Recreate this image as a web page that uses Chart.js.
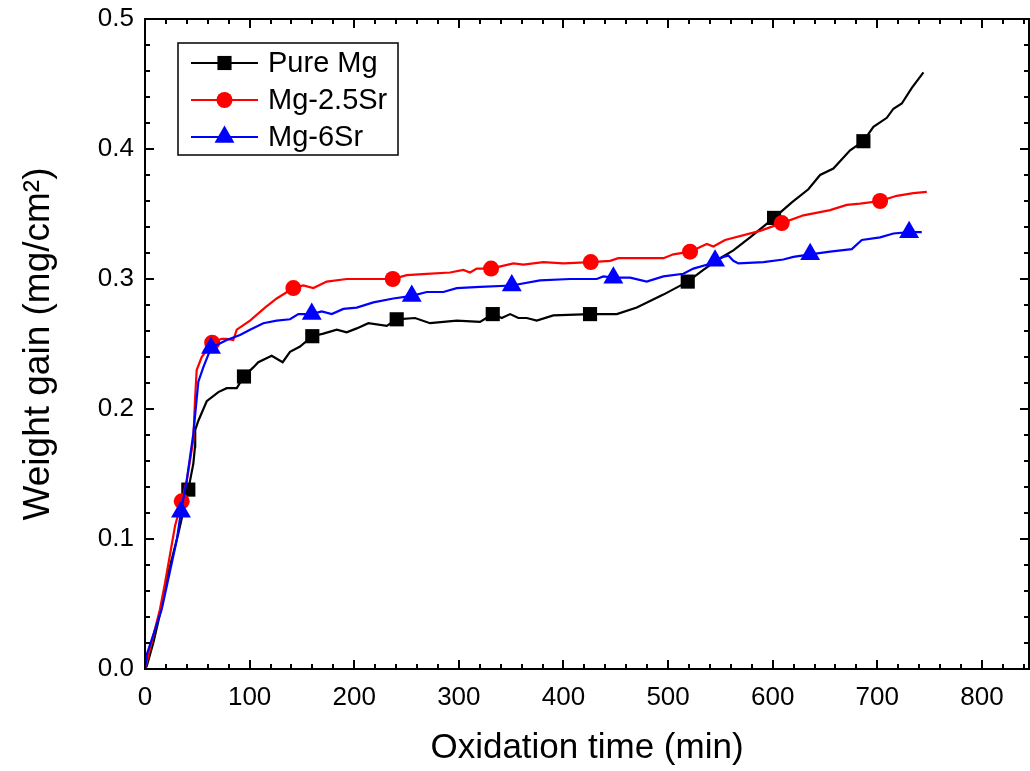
<!DOCTYPE html>
<html>
<head>
<meta charset="utf-8">
<script src="https://cdn.jsdelivr.net/npm/chart.js@4.4.1/dist/chart.umd.min.js"></script>
<style>
  html, body { margin: 0; padding: 0; background: #ffffff; }
  #wrap { width: 1030px; height: 771px; position: relative; }
</style>
</head>
<body>
<div id="wrap"><canvas id="c" width="1030" height="771"></canvas></div>
<script>
// ---------- data (oxidation time in min, weight gain in mg/cm2) ----------
const seriesNames = ['Pure Mg', 'Mg-2.5Sr', 'Mg-6Sr'];

const pureMgT = [0, 1.6, 7.9, 16.0, 22.3, 31.8, 41.4, 46.2, 47.8, 48.0, 51.0, 59.0, 70.1, 78.1, 87.7, 94.6, 103.5, 108.3, 121.1, 131.6, 138.6, 148.2, 159.9, 170.5, 183.3, 192.8, 202.4, 213.5, 231.1, 240.6, 258.1, 272.5, 298.0, 320.3, 332.4, 341.0, 349.0, 356.9, 364.9, 374.5, 390.3, 425.4, 451.0, 470.1, 495.5, 518.8, 533.7, 549.7, 562.4, 578.4, 601.3, 618.3, 634.1, 645.3, 658.0, 674.0, 686.7, 696.3, 709.1, 715.4, 723.4, 733.0, 744.1];
const pureMgW = [0, 0.002, 0.020, 0.048, 0.074, 0.104, 0.138, 0.158, 0.171, 0.184, 0.191, 0.206, 0.213, 0.216, 0.216, 0.225, 0.232, 0.236, 0.241, 0.236, 0.244, 0.248, 0.256, 0.258, 0.261, 0.259, 0.262, 0.266, 0.264, 0.269, 0.270, 0.266, 0.268, 0.267, 0.273, 0.270, 0.273, 0.270, 0.270, 0.268, 0.272, 0.273, 0.273, 0.278, 0.288, 0.298, 0.307, 0.316, 0.322, 0.332, 0.347, 0.359, 0.369, 0.380, 0.385, 0.399, 0.406, 0.417, 0.424, 0.431, 0.435, 0.447, 0.459];
const pureMgMarkT = [41.4, 94.6, 159.9, 240.6, 332.4, 425.4, 518.8, 601.3, 686.7];
const pureMgMarkW = [0.138, 0.225, 0.256, 0.269, 0.273, 0.273, 0.298, 0.347, 0.406];

const mg25SrT = [0, 14.3, 19.1, 28.7, 35.1, 39.9, 46.2, 47.8, 49.4, 54.2, 64.2, 73.3, 78.1, 84.4, 87.7, 100.4, 114.7, 125.9, 141.8, 151.3, 160.9, 173.7, 192.8, 215.1, 236.8, 250.2, 269.3, 291.6, 304.3, 310.7, 317.1, 330.8, 352.1, 361.7, 380.8, 399.9, 426.1, 444.6, 452.5, 495.5, 505.1, 521.0, 537.0, 543.3, 554.5, 587.9, 608.7, 629.4, 654.9, 670.8, 683.6, 702.7, 718.6, 734.5, 747.3];
const mg25SrW = [0, 0.046, 0.066, 0.110, 0.129, 0.145, 0.176, 0.207, 0.230, 0.240, 0.251, 0.254, 0.254, 0.253, 0.261, 0.268, 0.278, 0.285, 0.293, 0.295, 0.293, 0.298, 0.300, 0.300, 0.300, 0.303, 0.304, 0.305, 0.307, 0.305, 0.308, 0.308, 0.312, 0.311, 0.313, 0.312, 0.313, 0.314, 0.316, 0.316, 0.319, 0.321, 0.327, 0.325, 0.330, 0.337, 0.343, 0.349, 0.353, 0.357, 0.358, 0.360, 0.364, 0.366, 0.367];
const mg25SrMarkT = [35.1, 64.2, 141.8, 236.8, 330.8, 426.1, 521.0, 608.7, 702.7];
const mg25SrMarkW = [0.129, 0.251, 0.293, 0.300, 0.308, 0.313, 0.321, 0.343, 0.360];

const mg6SrT = [0, 2.0, 16.0, 30.3, 34.4, 39.9, 46.2, 51.0, 55.7, 63.1, 78.1, 90.8, 100.4, 113.1, 125.9, 138.6, 146.6, 159.4, 168.9, 178.5, 189.6, 202.4, 218.3, 237.4, 255.0, 269.3, 285.2, 298.0, 320.3, 350.6, 377.6, 406.3, 431.8, 438.1, 447.7, 463.7, 479.6, 495.5, 514.6, 524.2, 537.0, 544.9, 552.9, 557.6, 562.4, 567.2, 591.1, 610.2, 619.8, 635.8, 654.9, 675.6, 685.2, 702.7, 715.4, 730.4, 742.5];
const mg6SrW = [0, 0.012, 0.046, 0.099, 0.121, 0.145, 0.181, 0.221, 0.232, 0.247, 0.253, 0.257, 0.261, 0.266, 0.268, 0.269, 0.273, 0.273, 0.275, 0.273, 0.277, 0.278, 0.282, 0.285, 0.287, 0.290, 0.290, 0.293, 0.294, 0.295, 0.299, 0.300, 0.300, 0.302, 0.301, 0.301, 0.298, 0.302, 0.304, 0.308, 0.311, 0.314, 0.317, 0.318, 0.314, 0.312, 0.313, 0.315, 0.317, 0.319, 0.321, 0.323, 0.330, 0.332, 0.335, 0.336, 0.336];
const mg6SrMarkT = [34.4, 63.1, 159.4, 255.0, 350.6, 447.7, 544.9, 635.8, 730.4];
const mg6SrMarkW = [0.121, 0.247, 0.273, 0.287, 0.295, 0.301, 0.314, 0.319, 0.336];

const xTickValues = [0, 100, 200, 300, 400, 500, 600, 700, 800];
const yTickValues = [0.0, 0.1, 0.2, 0.3, 0.4, 0.5];
const xTitle = 'Oxidation time (min)';
const yTitle = 'Weight gain (mg/cm\u00B2)';

// ---------- styling ----------
const colors = ['#000000', '#ff0000', '#0000ff'];
const styles = ['rect', 'circle', 'triangle'];
const radii = [10, 8, 11.5];
const FONT = "'Liberation Sans', Arial, Helvetica, sans-serif";

function pts(t, w) { return t.map((v, i) => ({ x: v, y: w[i] })); }

const lineSets = [pts(pureMgT, pureMgW), pts(mg25SrT, mg25SrW), pts(mg6SrT, mg6SrW)];
const markSets = [pts(pureMgMarkT, pureMgMarkW), pts(mg25SrMarkT, mg25SrMarkW), pts(mg6SrMarkT, mg6SrMarkW)];

const datasets = [];
for (let i = 0; i < 3; i++) {
  datasets.push({
    label: seriesNames[i],
    data: lineSets[i],
    borderColor: colors[i],
    backgroundColor: colors[i],
    borderWidth: 2.2,
    pointRadius: 0,
    tension: 0,
    fill: false,
    order: 2 * (2 - i) + 1
  });
  datasets.push({
    label: seriesNames[i] + ' markers',
    data: markSets[i],
    showLine: false,
    borderColor: colors[i],
    backgroundColor: colors[i],
    borderWidth: 0,
    pointStyle: styles[i],
    pointRadius: radii[i],
    pointHoverRadius: radii[i],
    order: 2 * (2 - i)
  });
}

const X_MAX = 845;

function zeroPad(s) { s.paddingTop = 0; s.paddingBottom = 0; s.paddingLeft = 0; s.paddingRight = 0; }

// frame with inward ticks on all four sides
const framePlugin = {
  id: 'frame',
  afterDraw(chart) {
    const { ctx, chartArea: a, scales } = chart;
    const xs = scales.x, ys = scales.y;
    ctx.save();
    ctx.strokeStyle = '#000';
    ctx.lineWidth = 2;
    ctx.strokeRect(a.left, a.top, a.right - a.left, a.bottom - a.top);
    ctx.beginPath();
    for (let v = 0; v <= X_MAX + 0.001; v += 20) {
      const major = Math.abs(v % 100) < 1e-6;
      const L = major ? 9 : 5;
      const px = Math.round(xs.getPixelForValue(v));
      ctx.moveTo(px, a.bottom); ctx.lineTo(px, a.bottom - L);
      ctx.moveTo(px, a.top); ctx.lineTo(px, a.top + L);
    }
    for (let k = 0; k <= 25; k++) {
      const v = k * 0.02;
      const major = k % 5 === 0;
      const L = major ? 9 : 5;
      const py = Math.round(ys.getPixelForValue(v));
      ctx.moveTo(a.left, py); ctx.lineTo(a.left + L, py);
      ctx.moveTo(a.right, py); ctx.lineTo(a.right - L, py);
    }
    ctx.stroke();
    ctx.restore();
  }
};

// legend box with line + marker samples
const legendPlugin = {
  id: 'boxLegend',
  afterDraw(chart) {
    const { ctx } = chart;
    const box = { left: 178, top: 43, right: 398, bottom: 155 };
    ctx.save();
    ctx.fillStyle = '#fff';
    ctx.fillRect(box.left, box.top, box.right - box.left, box.bottom - box.top);
    ctx.strokeStyle = '#000';
    ctx.lineWidth = 1.5;
    ctx.strokeRect(box.left, box.top, box.right - box.left, box.bottom - box.top);
    const rows = [63, 100, 137];
    for (let i = 0; i < 3; i++) {
      const y = rows[i];
      ctx.strokeStyle = colors[i];
      ctx.lineWidth = 2.2;
      ctx.beginPath();
      ctx.moveTo(191, y); ctx.lineTo(258, y);
      ctx.stroke();
      ctx.fillStyle = colors[i];
      Chart.helpers.drawPoint(ctx, { pointStyle: styles[i], radius: radii[i], borderWidth: 0, rotation: 0 }, 224.5, y);
      ctx.fillStyle = '#000';
      ctx.font = '29px ' + FONT;
      ctx.textBaseline = 'middle';
      ctx.textAlign = 'left';
      ctx.fillText(seriesNames[i], 268, y + 1);
    }
    ctx.restore();
  }
};

new Chart(document.getElementById('c'), {
  type: 'line',
  data: { datasets },
  options: {
    responsive: false,
    animation: false,
    events: [],
    layout: { autoPadding: false, padding: { top: 19, right: 1, left: 0, bottom: 0 } },
    plugins: { legend: { display: false }, tooltip: { enabled: false } },
    scales: {
      x: {
        type: 'linear',
        min: 0,
        max: X_MAX,
        afterFit(s) { s.height = 102; zeroPad(s); },
        afterBuildTicks(s) { s.ticks = xTickValues.map(v => ({ value: v })); },
        grid: { display: false, drawTicks: false },
        border: { display: false },
        ticks: {
          color: '#000',
          padding: 13,
          maxRotation: 0,
          font: { family: FONT, size: 26 },
          callback: v => String(v)
        },
        title: {
          display: true,
          text: xTitle,
          color: '#000',
          font: { family: FONT, size: 35 },
          padding: { top: 0, bottom: 2 }
        }
      },
      y: {
        type: 'linear',
        min: 0,
        max: 0.5,
        afterFit(s) { s.width = 145; zeroPad(s); },
        afterBuildTicks(s) { s.ticks = yTickValues.map(v => ({ value: v })); },
        grid: { display: false, drawTicks: false },
        border: { display: false },
        ticks: {
          color: '#000',
          padding: 11,
          font: { family: FONT, size: 26 },
          callback: v => Number(v).toFixed(1)
        },
        title: {
          display: true,
          text: yTitle,
          color: '#000',
          font: { family: FONT, size: 37 },
          padding: { top: 17, bottom: 0 }
        }
      }
    }
  },
  plugins: [framePlugin, legendPlugin]
});
</script>
</body>
</html>
